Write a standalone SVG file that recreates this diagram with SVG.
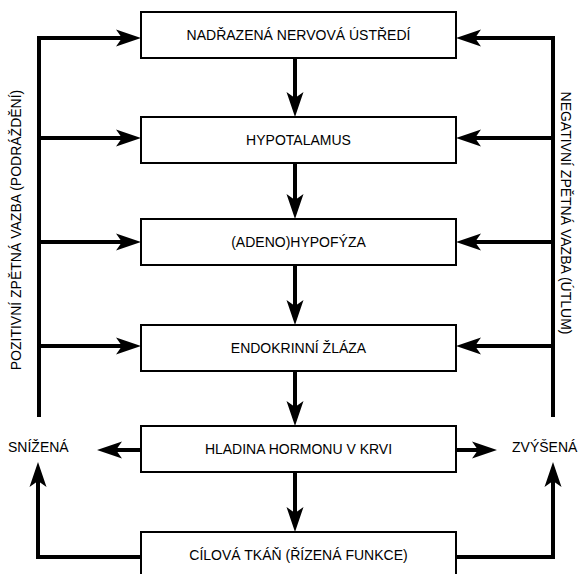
<svg xmlns="http://www.w3.org/2000/svg" width="581" height="574" viewBox="0 0 581 574">
<style>
  .box { fill: #ffffff; stroke: #000000; stroke-width: 2; }
  .lbl { font-family: "Liberation Sans", Arial, sans-serif; font-size: 14px; fill: #000000; }
  .mid { text-anchor: middle; }
  .conn { fill: none; stroke: #000000; stroke-width: 4; stroke-linejoin: miter; marker-end: url(#ah); }
</style>
<defs>
  <marker id="ah" markerUnits="userSpaceOnUse" markerWidth="30" markerHeight="20" refX="0" refY="0" orient="auto" overflow="visible">
    <path d="M18,0 L-7,-8.5 L-1,0 L-7,8.5 Z" fill="#000000"/>
  </marker>
</defs>
<rect width="581" height="574" fill="#ffffff"/>
<g id="connectors">
  <path class="conn" d="M295,58 V99"/>
  <path class="conn" d="M295,163 V201"/>
  <path class="conn" d="M295,265 V307"/>
  <path class="conn" d="M295,371 V408"/>
  <path class="conn" d="M295,472 V514"/>
  <path class="conn" d="M39,417 V38 H123"/>
  <path class="conn" d="M39,138 H123"/>
  <path class="conn" d="M39,242 H123"/>
  <path class="conn" d="M39,346 H123"/>
  <path class="conn" d="M553,417 V38 H474"/>
  <path class="conn" d="M553,138 H474"/>
  <path class="conn" d="M553,242 H474"/>
  <path class="conn" d="M553,346 H474"/>
  <path class="conn" d="M141,450 H115"/>
  <path class="conn" d="M456,450 H479"/>
  <path class="conn" d="M141,557 H38 V480"/>
  <path class="conn" d="M456,557 H553 V480"/>
</g>
<g id="n1"><rect class="box" x="141" y="12" width="315" height="46"/><text class="lbl mid" x="298.5" y="40">NADŘAZENÁ NERVOVÁ ÚSTŘEDÍ</text></g>
<g id="n2"><rect class="box" x="141" y="117" width="315" height="46"/><text class="lbl mid" x="298.5" y="145">HYPOTALAMUS</text></g>
<g id="n3"><rect class="box" x="141" y="219" width="315" height="46"/><text class="lbl mid" x="298.5" y="247">(ADENO)HYPOFÝZA</text></g>
<g id="n4"><rect class="box" x="141" y="325" width="315" height="46"/><text class="lbl mid" x="298.5" y="353">ENDOKRINNÍ ŽLÁZA</text></g>
<g id="n5"><rect class="box" x="141" y="426" width="315" height="46"/><text class="lbl mid" x="298.5" y="454">HLADINA HORMONU V KRVI</text></g>
<g id="n6"><rect class="box" x="141" y="532" width="315" height="46"/><text class="lbl mid" x="298.5" y="560">CÍLOVÁ TKÁŇ (ŘÍZENÁ FUNKCE)</text></g>
<g id="snizena"><text class="lbl" x="8" y="452">SNÍŽENÁ</text></g>
<g id="zvysena"><text class="lbl" x="512" y="452">ZVÝŠENÁ</text></g>
<g id="pozitivni"><text class="lbl mid" transform="translate(21,230) rotate(-90)">POZITIVNÍ ZPĚTNÁ VAZBA (PODRÁŽDĚNÍ)</text></g>
<g id="negativni"><text class="lbl mid" transform="translate(561,213) rotate(90)">NEGATIVNÍ ZPĚTNÁ VAZBA (ÚTLUM)</text></g>
</svg>
